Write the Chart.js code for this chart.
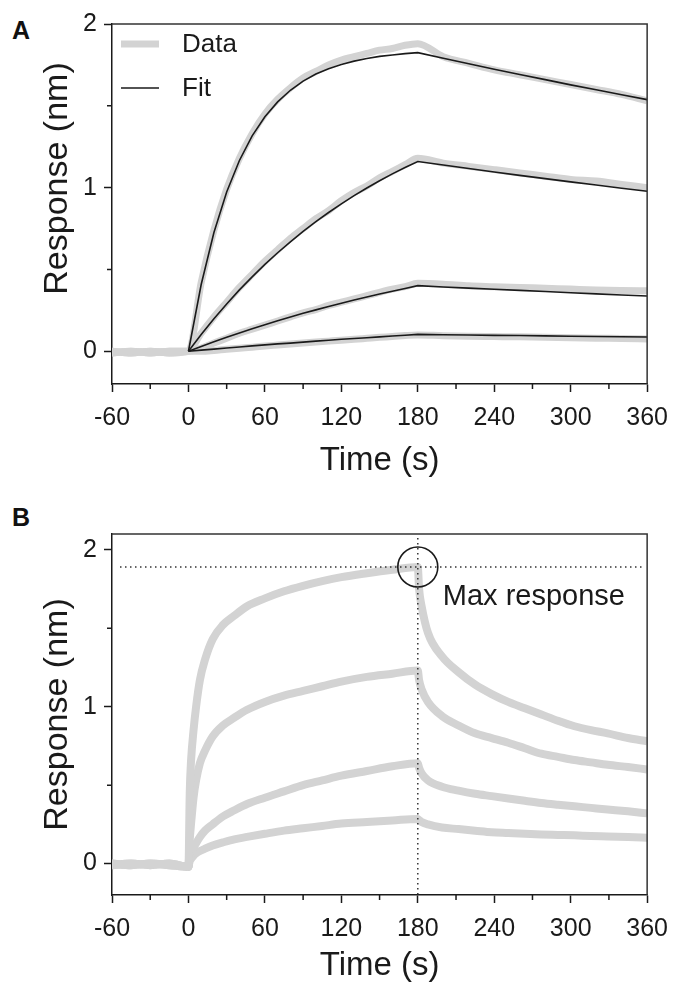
<!DOCTYPE html>
<html>
<head>
<meta charset="utf-8">
<script src="https://cdn.jsdelivr.net/npm/chart.js@4.4.1/dist/chart.umd.min.js"></script>
<style>
  html, body { margin: 0; padding: 0; background: #fff; }
  body { width: 679px; height: 986px; position: relative; overflow: hidden; font-family: "Liberation Sans", Arial, sans-serif; }
  .panel { position: absolute; left: 0; width: 679px; }
  #wrapA { top: 0; height: 481px; }
  #wrapB { top: 490px; height: 496px; }
  .tag { position: absolute; left: 12px; font-weight: bold; font-size: 25px; color: #111; line-height: 28px; }
</style>
</head>
<body>
<div class="tag" style="top:16px">A</div>
<div class="tag" style="top:503px">B</div>
<div id="wrapA" class="panel"><canvas id="chartA" width="679" height="481"></canvas></div>
<div id="wrapB" class="panel"><canvas id="chartB" width="679" height="496"></canvas></div>
<script>
// panel A: fitted sensorgrams (time in s, response in nm)
const timeA = [-60, -45, -30, -15, 0, 10, 20, 30, 40, 50, 60, 70, 80, 90, 100, 110, 120, 130, 140, 150, 160, 170, 180,
  200, 220, 240, 260, 280, 300, 320, 340, 360];
const dataA1 = [-0.01, 0.0, -0.01, 0.0, 0.0, 0.42, 0.74, 0.99, 1.18, 1.33, 1.45, 1.54, 1.61, 1.67, 1.71, 1.75, 1.78, 1.80, 1.82, 1.84, 1.85, 1.87, 1.88,
  1.80, 1.76, 1.72, 1.69, 1.66, 1.63, 1.60, 1.57, 1.53];
const dataA2 = [0.0, -0.01, 0.0, -0.01, 0.0, 0.11, 0.21, 0.30, 0.39, 0.47, 0.55, 0.62, 0.69, 0.75, 0.81, 0.86, 0.92, 0.97, 1.01, 1.06, 1.10, 1.14, 1.18,
  1.15, 1.13, 1.11, 1.09, 1.07, 1.05, 1.04, 1.02, 1.00];
const dataA3 = [-0.01, 0.0, -0.01, 0.0, 0.0, 0.02, 0.05, 0.08, 0.11, 0.135, 0.16, 0.185, 0.21, 0.235, 0.255, 0.28, 0.30, 0.32, 0.34, 0.36, 0.38, 0.395, 0.415,
  0.41, 0.40, 0.395, 0.39, 0.385, 0.38, 0.375, 0.372, 0.37];
const dataA4 = [0.0, -0.01, 0.0, -0.01, 0.0, 0.0, 0.005, 0.012, 0.018, 0.025, 0.032, 0.038, 0.044, 0.05, 0.056, 0.062, 0.068, 0.073, 0.079, 0.085, 0.09, 0.096, 0.10,
  0.095, 0.092, 0.09, 0.088, 0.085, 0.083, 0.08, 0.078, 0.075];

const timeFitA = [0, 10, 20, 30, 40, 50, 60, 70, 80, 90, 100, 110, 120, 130, 140, 150, 160, 170, 180,
  200, 220, 240, 260, 280, 300, 320, 340, 360];
const fitA1 = [0, 0.408, 0.726, 0.973, 1.166, 1.316, 1.433, 1.524, 1.595, 1.651, 1.694, 1.727, 1.753, 1.773, 1.789, 1.802, 1.811, 1.819, 1.825,
  1.791, 1.757, 1.724, 1.691, 1.660, 1.628, 1.598, 1.568, 1.538];
const fitA2 = [0, 0.102, 0.199, 0.289, 0.375, 0.455, 0.531, 0.602, 0.669, 0.733, 0.792, 0.848, 0.901, 0.951, 0.998, 1.042, 1.084, 1.123, 1.160,
  1.138, 1.117, 1.096, 1.075, 1.055, 1.035, 1.016, 0.996, 0.978];
const fitA3 = [0, 0.029, 0.058, 0.086, 0.112, 0.138, 0.162, 0.186, 0.209, 0.232, 0.253, 0.274, 0.294, 0.313, 0.332, 0.350, 0.367, 0.384, 0.401,
  0.393, 0.386, 0.379, 0.372, 0.365, 0.358, 0.351, 0.344, 0.338];
const fitA4 = [0, 0.007, 0.013, 0.020, 0.026, 0.033, 0.039, 0.045, 0.050, 0.056, 0.062, 0.067, 0.073, 0.078, 0.083, 0.088, 0.093, 0.098, 0.103,
  0.101, 0.099, 0.097, 0.096, 0.094, 0.092, 0.090, 0.089, 0.087];

// panel B: raw sensorgrams
const timeB = [-60, -45, -30, -15, 0, 1, 2, 4, 6, 9, 13, 19, 27, 36, 46, 60, 75, 90, 105, 120, 140, 160, 180,
  181, 183, 188, 199, 212, 225, 238, 251, 264, 277, 290, 303, 316, 329, 345, 360];
const respB1 = [-0.01, 0.0, -0.01, 0.0, -0.02, 0.45, 0.65, 0.85, 1.0, 1.17, 1.30, 1.43, 1.52, 1.58, 1.64, 1.69, 1.735, 1.77, 1.80, 1.825, 1.85, 1.872, 1.89,
  1.75, 1.64, 1.47, 1.32, 1.22, 1.14, 1.08, 1.03, 0.99, 0.95, 0.91, 0.875, 0.85, 0.83, 0.80, 0.78];
const respB2 = [0.0, -0.01, 0.0, -0.01, -0.02, 0.15, 0.25, 0.42, 0.53, 0.64, 0.72, 0.81, 0.88, 0.93, 0.98, 1.03, 1.07, 1.10, 1.13, 1.16, 1.19, 1.21, 1.23,
  1.17, 1.11, 1.03, 0.94, 0.88, 0.83, 0.80, 0.77, 0.735, 0.70, 0.68, 0.66, 0.645, 0.63, 0.615, 0.60];
const respB3 = [-0.01, 0.0, -0.01, 0.0, -0.02, 0.03, 0.05, 0.10, 0.13, 0.17, 0.21, 0.25, 0.30, 0.34, 0.38, 0.42, 0.46, 0.50, 0.53, 0.56, 0.59, 0.62, 0.64,
  0.61, 0.575, 0.53, 0.49, 0.465, 0.445, 0.43, 0.415, 0.40, 0.386, 0.375, 0.365, 0.355, 0.345, 0.333, 0.32];
const respB4 = [0.0, -0.01, 0.0, -0.01, -0.02, 0.02, 0.03, 0.05, 0.065, 0.08, 0.095, 0.115, 0.135, 0.155, 0.17, 0.19, 0.21, 0.225, 0.24, 0.255, 0.265, 0.275, 0.285,
  0.278, 0.265, 0.25, 0.23, 0.22, 0.21, 0.20, 0.195, 0.19, 0.186, 0.183, 0.18, 0.176, 0.173, 0.169, 0.165];

const MAX_TIME = 180;
const MAX_RESPONSE = 1.89;

const xTicks = [-60, 0, 60, 120, 180, 240, 300, 360];
const xMinorTicks = [-30, 30, 90, 150, 210, 270, 330];
const yTicks = [0, 1, 2];
const yMinorTicks = [0.5, 1.5];

const FONT = '"Liberation Sans", Arial, Helvetica, sans-serif';
const INK = '#1a1a1a';
const GREY = '#d3d3d3';

function points(xs, ys) {
  return xs.map((x, i) => ({ x, y: ys[i] }));
}

function dataLine(label, xs, ys, width) {
  return {
    label,
    data: points(xs, ys),
    borderColor: GREY,
    borderWidth: width,
    pointRadius: 0,
    cubicInterpolationMode: 'monotone',
    order: 2
  };
}

function fitLine(label, xs, ys) {
  return {
    label,
    data: points(xs, ys),
    borderColor: INK,
    borderWidth: 1.6,
    pointRadius: 0,
    tension: 0,
    order: 1
  };
}

const frame = {
  id: 'frame',
  afterDraw(chart) {
    const { ctx, chartArea: a } = chart;
    ctx.save();
    ctx.strokeStyle = '#333';
    ctx.lineWidth = 1.5;
    ctx.beginPath();
    ctx.moveTo(a.left, a.top);
    ctx.lineTo(a.right, a.top);
    ctx.lineTo(a.right, a.bottom);
    ctx.stroke();
    ctx.restore();
  }
};

const minorTicks = {
  id: 'minorTicks',
  afterDraw(chart) {
    const { ctx, chartArea: a, scales: { x, y } } = chart;
    ctx.save();
    ctx.strokeStyle = INK;
    ctx.lineWidth = 1.5;
    ctx.beginPath();
    xMinorTicks.forEach((v) => {
      const px = x.getPixelForValue(v);
      ctx.moveTo(px, a.bottom);
      ctx.lineTo(px, a.bottom + 5);
    });
    yMinorTicks.forEach((v) => {
      const py = y.getPixelForValue(v);
      ctx.moveTo(a.left, py);
      ctx.lineTo(a.left - 5, py);
    });
    ctx.stroke();
    ctx.restore();
  }
};

// small legend in the top-left corner of panel A (first data set, first fit)
const cornerLegend = {
  id: 'cornerLegend',
  afterDraw(chart) {
    const { ctx, chartArea: a } = chart;
    const items = [chart.data.datasets[0], chart.data.datasets[4]];
    ctx.save();
    ctx.font = '26px ' + FONT;
    ctx.textBaseline = 'middle';
    items.forEach((ds, i) => {
      const cy = a.top + 20 + i * 44;
      ctx.strokeStyle = ds.borderColor;
      ctx.lineWidth = ds.borderWidth;
      ctx.beginPath();
      ctx.moveTo(a.left + 9, cy);
      ctx.lineTo(a.left + 47, cy);
      ctx.stroke();
      ctx.fillStyle = INK;
      ctx.fillText(ds.label, a.left + 70, cy + 1);
    });
    ctx.restore();
  }
};

const maxMarker = {
  id: 'maxMarker',
  afterDatasetsDraw(chart) {
    const { ctx, chartArea: a, scales: { x, y } } = chart;
    const px = x.getPixelForValue(MAX_TIME);
    const py = y.getPixelForValue(MAX_RESPONSE);
    ctx.save();
    ctx.strokeStyle = '#333';
    ctx.lineWidth = 1.5;
    ctx.setLineDash([1.5, 3.5]);
    ctx.beginPath();
    ctx.moveTo(a.left + 8, py);
    ctx.lineTo(a.right - 4, py);
    ctx.moveTo(px, a.top + 4);
    ctx.lineTo(px, a.bottom);
    ctx.stroke();
    ctx.setLineDash([]);
    ctx.strokeStyle = INK;
    ctx.lineWidth = 1.6;
    ctx.beginPath();
    ctx.arc(px, py, 20, 0, Math.PI * 2);
    ctx.stroke();
    ctx.fillStyle = INK;
    ctx.font = '29px ' + FONT;
    ctx.textBaseline = 'middle';
    ctx.fillText('Max response', px + 25, py + 30);
    ctx.restore();
  }
};

function makeOptions(yMin, yMax, padTop, xHeight, yTitle) {
  return {
    responsive: false,
    animation: false,
    layout: { padding: { left: 37, right: 29, top: padTop, bottom: 0 } },
    plugins: { legend: { display: false }, tooltip: { enabled: false } },
    scales: {
      x: {
        type: 'linear',
        min: -60,
        max: 360,
        afterBuildTicks: (s) => { s.ticks = xTicks.map((v) => ({ value: v })); },
        afterFit: (s) => { s.height = xHeight; },
        ticks: { autoSkip: false, maxRotation: 0, padding: 11, color: INK, font: { family: FONT, size: 25 } },
        grid: { drawOnChartArea: false, tickLength: 8, tickColor: INK, tickWidth: 1.5 },
        border: { color: INK, width: 1.5 },
        title: { display: true, text: 'Time (s)', color: INK, font: { family: FONT, size: 33 }, padding: 0 }
      },
      y: {
        type: 'linear',
        min: yMin,
        max: yMax,
        afterBuildTicks: (s) => { s.ticks = yTicks.map((v) => ({ value: v })); },
        afterFit: (s) => { s.width = 75; },
        ticks: { padding: 7, color: INK, font: { family: FONT, size: 25 } },
        grid: { drawOnChartArea: false, tickLength: 8, tickColor: INK, tickWidth: 1.5 },
        border: { color: INK, width: 1.5 },
        title: { display: true, text: yTitle, color: INK, font: { family: FONT, size: 34 }, padding: 0 }
      }
    }
  };
}

new Chart(document.getElementById('chartA'), {
  type: 'line',
  data: {
    datasets: [
      dataLine('Data', timeA, dataA1, 7),
      dataLine('Data 2', timeA, dataA2, 7),
      dataLine('Data 3', timeA, dataA3, 7),
      dataLine('Data 4', timeA, dataA4, 7),
      fitLine('Fit', timeFitA, fitA1),
      fitLine('Fit 2', timeFitA, fitA2),
      fitLine('Fit 3', timeFitA, fitA3),
      fitLine('Fit 4', timeFitA, fitA4)
    ]
  },
  // leading en spaces lift the title a little, as in the original figure
  options: makeOptions(-0.2, 2, 24, 97, '\u2002\u2002\u2002Response (nm)'),
  plugins: [frame, minorTicks, cornerLegend]
});

new Chart(document.getElementById('chartB'), {
  type: 'line',
  data: {
    datasets: [
      dataLine('Response 1', timeB, respB1, 8),
      dataLine('Response 2', timeB, respB2, 8),
      dataLine('Response 3', timeB, respB3, 8),
      dataLine('Response 4', timeB, respB4, 8)
    ]
  },
  options: makeOptions(-0.2, 2.1, 44, 91, 'Response (nm)'),
  plugins: [frame, minorTicks, maxMarker]
});
</script>
</body>
</html>
